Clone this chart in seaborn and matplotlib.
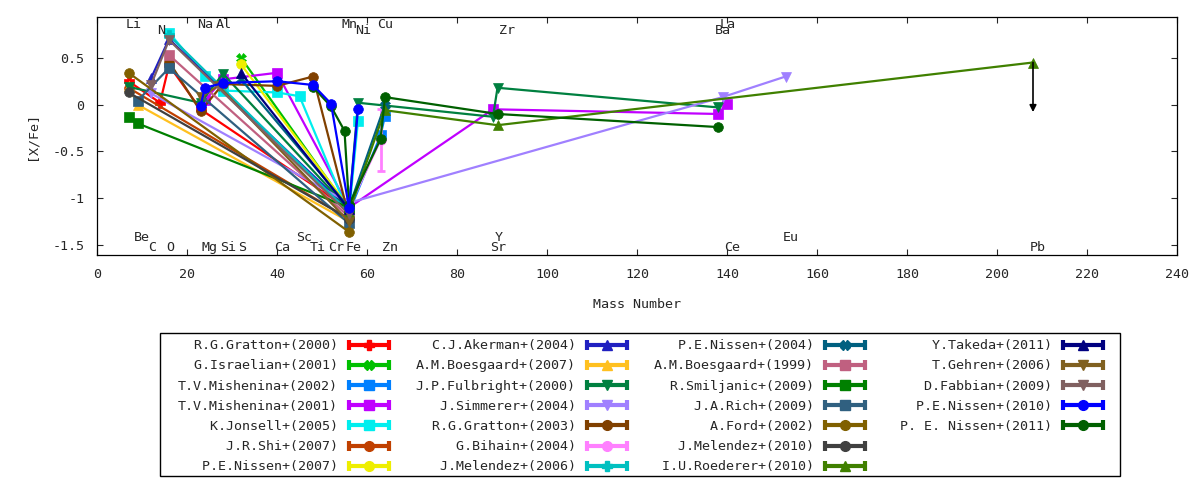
import pandas as pd
import matplotlib
matplotlib.use("Agg")
import matplotlib.pyplot as plt
import seaborn as sns
from matplotlib.lines import Line2D
from matplotlib.patches import Rectangle
from matplotlib.legend_handler import HandlerBase

# mass number used for each element (most abundant isotope)
mass = {"Li": 7, "Be": 9, "C": 12, "N": 14, "O": 16, "Na": 23, "Mg": 24, "Al": 27,
        "Si": 28, "S": 32, "Ca": 40, "Sc": 45, "Ti": 48, "Cr": 52, "Mn": 55, "Fe": 56,
        "Ni": 58, "Cu": 63, "Zn": 64, "Sr": 88, "Y": 89, "Zr": 90, "Ba": 138,
        "La": 139, "Ce": 140, "Eu": 153, "Pb": 208}

# [X/Fe] for each study (the Fe entry is [Fe/H])
gratton_2000 = {"Li": 0.25, "N": 0.02, "O": 0.42, "Na": -0.05, "Fe": -1.12}
israelian_2001 = {"S": 0.50, "Fe": -1.12}
mishenina_2002 = {"Fe": -1.15, "Cu": -0.33, "Zn": -0.12}
mishenina_2001 = {"Mg": 0.05, "Si": 0.27, "Ca": 0.34, "Fe": -1.10, "Sr": -0.05, "Ba": -0.10, "Ce": 0.01}
jonsell_2005 = {"O": 0.77, "Mg": 0.31, "Si": 0.15, "Ca": 0.13, "Sc": 0.09, "Fe": -1.17, "Ni": -0.17}
shi_2007 = {"Li": 0.18, "Fe": -1.22}
nissen_2007 = {"S": 0.43, "Fe": -1.10}
akerman_2004 = {"C": 0.28, "O": 0.70, "Fe": -1.12}
boesgaard_2007 = {"Li": 0.20, "Be": 0.00, "Fe": -1.25}
fulbright_2000 = {"Li": 0.19, "Na": 0.02, "Si": 0.33, "Fe": -1.12, "Ni": 0.02, "Sr": -0.13, "Y": 0.18, "Ba": -0.03}
simmerer_2004 = {"C": 0.12, "Fe": -1.05, "La": 0.08, "Eu": 0.30}
gratton_2003 = {"O": 0.46, "Na": -0.07, "Si": 0.22, "Ca": 0.20, "Ti": 0.30, "Fe": -1.20}
bihain_2004 = {"Fe": -1.10, "Cu": -0.38}
melendez_2006 = {"O": 0.74, "Fe": -1.15}
nissen_2004 = {"S": 0.27, "Fe": -1.10, "Zn": 0.00}
boesgaard_1999 = {"O": 0.53, "Fe": -1.20}
smiljanic_2009 = {"Li": -0.13, "Be": -0.20, "Fe": -1.10}
rich_2009 = {"Be": 0.04, "O": 0.39, "Fe": -1.27}
ford_2002 = {"Li": 0.34, "Fe": -1.36}
melendez_2010 = {"Li": 0.13, "Fe": -1.22}
roederer_2010 = {"Fe": -1.15, "Zn": -0.06, "Y": -0.22, "Pb": 0.45}
takeda_2011 = {"S": 0.34, "Fe": -1.12}
gehren_2006 = {"Na": 0.08, "Al": 0.20, "Fe": -1.25}
fabbian_2009 = {"C": 0.21, "O": 0.69, "Fe": -1.17}
nissen_2010 = {"Na": -0.01, "Mg": 0.18, "Si": 0.23, "Ca": 0.25, "Ti": 0.21, "Cr": 0.01, "Fe": -1.10, "Ni": -0.05}
nissen_2011 = {"Ti": 0.19, "Cr": -0.02, "Mn": -0.28, "Fe": -1.07, "Cu": -0.37, "Zn": 0.08, "Y": -0.10, "Ba": -0.24}

bihain_cu_err = 0.33
roederer_pb_arrow_end = -0.08

studies = ["R.G.Gratton+(2000)", "G.Israelian+(2001)", "T.V.Mishenina+(2002)",
           "T.V.Mishenina+(2001)", "K.Jonsell+(2005)", "J.R.Shi+(2007)", "P.E.Nissen+(2007)",
           "C.J.Akerman+(2004)", "A.M.Boesgaard+(2007)", "J.P.Fulbright+(2000)",
           "J.Simmerer+(2004)", "R.G.Gratton+(2003)", "G.Bihain+(2004)", "J.Melendez+(2006)",
           "P.E.Nissen+(2004)", "A.M.Boesgaard+(1999)", "R.Smiljanic+(2009)", "J.A.Rich+(2009)",
           "A.Ford+(2002)", "J.Melendez+(2010)", "I.U.Roederer+(2010)", "Y.Takeda+(2011)",
           "T.Gehren+(2006)", "D.Fabbian+(2009)", "P.E.Nissen+(2010)", "P. E. Nissen+(2011)"]
values = [gratton_2000, israelian_2001, mishenina_2002, mishenina_2001, jonsell_2005,
          shi_2007, nissen_2007, akerman_2004, boesgaard_2007, fulbright_2000, simmerer_2004,
          gratton_2003, bihain_2004, melendez_2006, nissen_2004, boesgaard_1999,
          smiljanic_2009, rich_2009, ford_2002, melendez_2010, roederer_2010, takeda_2011,
          gehren_2006, fabbian_2009, nissen_2010, nissen_2011]

colors = ["#ff0000", "#00c000", "#0080ff", "#c000ff", "#00eeee", "#c04000", "#eeee00",
          "#2020c0", "#ffc020", "#008040", "#a080ff", "#804000", "#ff80ff", "#00c0c0",
          "#006080", "#c06080", "#008000", "#306080", "#806000", "#404040", "#408000",
          "#000080", "#806020", "#806060", "#0000ff", "#006000"]
markers = ["P", "X", "s", "s", "s", "o", "o", "^", "^", "v", "v", "o", "o", "P",
           "X", "s", "s", "s", "o", "o", "^", "^", "v", "v", "o", "o"]

# element labels: (row height, names)
label_rows = [(0.86, ["Li", "Na", "Al", "Mn", "Cu", "La"]),
              (0.795, ["N", "Ni", "Zr", "Ba"]),
              (-1.42, ["Be", "Sc", "Y", "Eu"]),
              (-1.53, ["C", "O", "Mg", "Si", "S", "Ca", "Ti", "Cr", "Fe", "Zn", "Sr", "Ce", "Pb"])]

rows = []
for name, vals in zip(studies, values):
    for el, v in vals.items():
        rows.append({"study": name, "element": el, "mass": mass[el], "xfe": v})
df = pd.DataFrame(rows)

sns.set_style("ticks")
plt.rcParams["font.family"] = ["DejaVu Sans Mono"]
plt.rcParams["axes.unicode_minus"] = False
fs = 9.6

fig = plt.figure(figsize=(12, 4.8), dpi=100)
ax = fig.add_axes([97 / 1200, 1 - 255 / 480, 1080 / 1200, (255 - 17.3) / 480])

for i, (name, c, m) in enumerate(zip(studies, colors, markers)):
    sub = df[df["study"] == name]
    z = 2 + i * 0.01
    if name.startswith("P. E. Nissen"):
        z = 2.235  # drawn under Nissen 2010
    sns.lineplot(data=sub, x="mass", y="xfe", ax=ax, color=c, marker=m, markersize=7,
                 markeredgecolor=c, markeredgewidth=0.5, linewidth=1.6,
                 estimator=None, errorbar=None, sort=True, zorder=z)

ax.errorbar([mass["Cu"]], [bihain_2004["Cu"]], yerr=[bihain_cu_err], fmt="none",
            ecolor="#ff80ff", elinewidth=2, capsize=3, capthick=2, zorder=2.12)
ax.annotate("", xy=(mass["Pb"], roederer_pb_arrow_end), xytext=(mass["Pb"], roederer_2010["Pb"]),
            arrowprops=dict(arrowstyle="-|>", color="black", lw=1.2, mutation_scale=10,
                            shrinkA=0, shrinkB=0), zorder=5)

for yv, names in label_rows:
    for el in names:
        ax.text(mass[el] - 0.7, yv, el, ha="left", va="center", fontsize=fs, zorder=6)

ax.set_xlim(0, 240)
ax.set_ylim(-1.607, 0.933)
ax.set_xticks(range(0, 241, 20))
ax.set_yticks([-1.5, -1, -0.5, 0, 0.5])
ax.set_yticklabels(["-1.5", "-1", "-0.5", "0", "0.5"])
ax.tick_params(direction="in", length=4, width=0.8, top=True, right=True, labelsize=fs)
ax.tick_params(axis="x", pad=9)
ax.tick_params(axis="y", pad=9)
for sp in ax.spines.values():
    sp.set_linewidth(0.9)
    sp.set_color("black")
ax.set_xlabel("Mass Number", fontsize=fs, labelpad=12.5)
ax.set_ylabel("[X/Fe]", fontsize=fs, labelpad=10)


class ErrorKey(HandlerBase):
    def create_artists(self, legend, orig, xd, yd, w, h, fontsize, trans):
        c = orig.get_color()
        y = (h - yd) / 2
        x0, x1 = -xd, w - xd
        bar = Line2D([x0, x1], [y, y], color=c, lw=3, solid_capstyle="butt")
        caps = Line2D([x0 + 1, x1 - 1], [y, y], ls="none", marker="|", ms=7, mew=3, color=c)
        dot = Line2D([(x0 + x1) / 2], [y], ls="none", marker=orig.get_marker(), ms=7,
                     color=c, mec=c)
        for a in (bar, caps, dot):
            a.set_transform(trans)
        return [bar, caps, dot]


handles = [Line2D([], [], color=c, marker=m) for c, m in zip(colors, markers)]
labels = [s.rjust(20) for s in studies]
handles += [Line2D([], [], color="none", marker="none")] * 2
labels += [" " * 20] * 2
fig.legend(handles, labels, handler_map={Line2D: ErrorKey()}, ncol=4, loc="upper left",
           bbox_to_anchor=(171 / 1200, 1 - 332.5 / 480), frameon=False, borderpad=0,
           markerfirst=False, handlelength=3.2, handletextpad=0.75, columnspacing=1.9,
           labelspacing=0.54, prop={"size": fs})
fig.add_artist(Rectangle((160 / 1200, 1 - 476 / 480), 960 / 1200, 143 / 480,
                         transform=fig.transFigure, fill=False, ec="black", lw=1))

fig.savefig("out.png", dpi=100)
